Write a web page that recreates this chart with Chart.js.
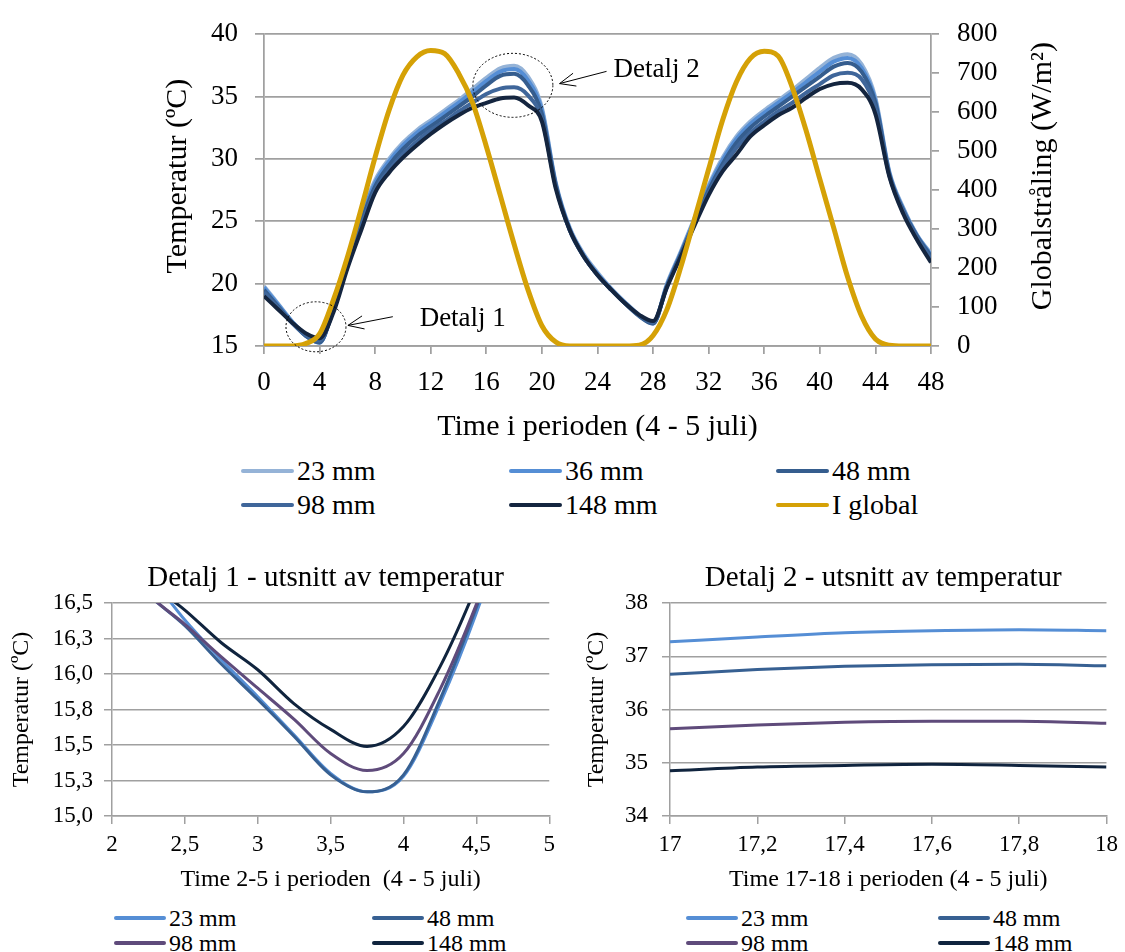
<!DOCTYPE html>
<html>
<head>
<meta charset="utf-8">
<script src="https://cdn.jsdelivr.net/npm/chart.js@4/dist/chart.umd.min.js"></script>
<style>
  body { margin: 0; background: #fff; width: 1125px; height: 952px; position: relative; overflow: hidden; font-family: "Liberation Serif", serif; }
  canvas { position: absolute; }
  .leg { position: absolute; display: flex; align-items: center; white-space: nowrap; color: #000; }
  .leg span { display: inline-block; border-radius: 3px; margin-right: 3px; }
</style>
</head>
<body>
<canvas id="main" width="1125" height="445" style="left:0;top:0"></canvas>
<canvas id="det1" width="562" height="334" style="left:0;top:560px"></canvas>
<canvas id="det2" width="555" height="334" style="left:570px;top:560px"></canvas>
<script>
// hours 0 - 48 (4 - 5 juli)
const hours = [0, 1, 2, 3, 4, 5, 6, 7, 8, 9, 10, 11, 12, 13, 14, 15, 16, 17, 18, 19, 20, 21, 22, 23, 24,
  25, 26, 27, 28, 29, 30, 31, 32, 33, 34, 35, 36, 37, 38, 39, 40, 41, 42, 43, 44, 45, 46, 47, 48];

// temperature (C) per thickness
const t23 = [19.8, 18.4, 17.0, 15.84, 15.28, 18.2, 21.9, 25.5, 28.3, 30.0, 31.3, 32.3, 33.1, 33.9, 34.7, 35.6, 36.5, 37.27, 37.48, 36.6, 34.1, 28.1, 24.5, 22.4, 20.9,
  19.6, 18.5, 17.5, 16.8, 20.0, 22.6, 25.3, 27.9, 30.1, 31.8, 33.0, 33.9, 34.7, 35.5, 36.4, 37.3, 38.1, 38.4, 37.6, 34.9, 29.0, 26.1, 23.9, 22.4];
const t36 = [19.7, 18.35, 16.98, 15.83, 15.27, 18.1, 21.8, 25.3, 28.1, 29.8, 31.1, 32.1, 32.9, 33.7, 34.5, 35.35, 36.25, 37.0, 37.2, 36.3, 33.9, 28.0, 24.4, 22.3, 20.8,
  19.55, 18.45, 17.45, 16.8, 19.9, 22.5, 25.2, 27.75, 29.9, 31.6, 32.8, 33.7, 34.5, 35.3, 36.15, 37.0, 37.8, 38.1, 37.3, 34.7, 28.9, 26.0, 23.85, 22.3];
const t48 = [19.5, 18.2, 16.9, 15.82, 15.29, 18.0, 21.6, 25.0, 27.8, 29.5, 30.8, 31.8, 32.6, 33.4, 34.2, 35.0, 35.9, 36.66, 36.82, 35.9, 33.6, 27.9, 24.3, 22.2, 20.7,
  19.5, 18.4, 17.4, 16.8, 19.8, 22.4, 25.0, 27.5, 29.6, 31.3, 32.5, 33.4, 34.2, 35.0, 35.8, 36.6, 37.4, 37.7, 37.0, 34.5, 28.8, 25.9, 23.8, 22.2];
const t98 = [19.3, 18.1, 16.88, 15.9, 15.44, 17.9, 21.4, 24.6, 27.5, 29.1, 30.4, 31.4, 32.3, 33.0, 33.8, 34.5, 35.2, 35.64, 35.74, 35.1, 33.2, 27.8, 24.3, 22.2, 20.7,
  19.5, 18.4, 17.45, 16.9, 19.8, 22.3, 24.9, 27.3, 29.3, 30.9, 32.1, 33.0, 33.8, 34.5, 35.3, 36.0, 36.7, 36.9, 36.4, 34.1, 28.7, 25.8, 23.7, 22.0];
const t148 = [19.0, 17.95, 16.9, 16.03, 15.63, 17.7, 21.2, 24.3, 27.3, 28.9, 30.1, 31.1, 32.0, 32.8, 33.5, 34.1, 34.5, 34.85, 34.92, 34.3, 33.0, 27.6, 24.3, 22.2, 20.7,
  19.5, 18.4, 17.5, 17.0, 19.7, 22.2, 24.7, 27.1, 29.0, 30.35, 31.8, 32.7, 33.5, 34.1, 34.9, 35.6, 36.0, 36.1, 35.6, 33.6, 28.6, 25.6, 23.5, 21.7];
// global radiation (W/m2)
const iGlobal = [0, 0, 0, 6, 31, 119, 228, 353, 485, 605, 695, 742, 758, 750, 700, 625, 512, 387, 261, 144, 52, 10, 0, 0, 0,
  0, 0, 2, 27, 94, 203, 328, 454, 579, 678, 738, 756, 744, 665, 554, 428, 303, 177, 77, 18, 2, 0, 0, 0];

// Detalj 1: hour 2-5
const d1Hours = [2, 2.25, 2.5, 2.75, 3, 3.25, 3.5, 3.75, 4, 4.25, 4.5, 4.75, 5];
const d1t23 = [16.95, 16.7, 16.38, 16.1, 15.84, 15.57, 15.3, 15.17, 15.28, 15.79, 16.43, 17.2, 18.2];
const d1t48 = [16.85, 16.56, 16.34, 16.07, 15.82, 15.56, 15.29, 15.17, 15.29, 15.82, 16.47, 17.2, 18.1];
const d1t98 = [16.85, 16.56, 16.35, 16.12, 15.9, 15.68, 15.44, 15.32, 15.44, 15.89, 16.49, 17.2, 18.0];
const d1t148 = [16.9, 16.65, 16.45, 16.22, 16.03, 15.79, 15.61, 15.49, 15.63, 16.05, 16.62, 17.3, 18.1];

// Detalj 2: hour 17-18
const d2Hours = [17, 17.2, 17.4, 17.6, 17.8, 18];
const d2t23 = [37.27, 37.36, 37.44, 37.48, 37.5, 37.48];
const d2t48 = [36.66, 36.75, 36.81, 36.84, 36.85, 36.82];
const d2t98 = [35.64, 35.71, 35.76, 35.78, 35.78, 35.74];
const d2t148 = [34.85, 34.92, 34.95, 34.97, 34.95, 34.92];

const mainNames = ['23 mm', '36 mm', '48 mm', '98 mm', '148 mm', 'I global'];
const mainColors = ['#95b3d7', '#558ed5', '#355d8e', '#3f669a', '#14253f', '#d5a106'];
const detNames = ['23 mm', '48 mm', '98 mm', '148 mm'];
const detColors = ['#558ed5', '#376092', '#5f4b7b', '#10243e'];

const FONT = '"Liberation Serif", serif';
const GRID = '#a0a0a0';

function pts(xs, ys) {
  return ys.map(function (v, i) { return { x: xs[i], y: v }; });
}
function comma(v) {
  return String(Math.round(v * 100) / 100).replace('.', ',');
}

function legend(names, colors, colX, rowY, lineW, lineH, size) {
  names.forEach(function (name, i) {
    const item = document.createElement('div');
    item.className = 'leg';
    item.style.left = colX[i % colX.length] + 'px';
    item.style.top = (rowY[Math.floor(i / colX.length)] - 20) + 'px';
    item.style.height = '40px';
    item.style.fontSize = size + 'px';
    item.innerHTML = '<span style="width:' + lineW + 'px;height:' + lineH + 'px;background:' + colors[i] + '"></span>' + name;
    document.body.appendChild(item);
  });
}

function sideTitle(ctx, text, x, y) {
  ctx.save();
  ctx.translate(x, y);
  ctx.rotate(-Math.PI / 2);
  ctx.font = '30px ' + FONT;
  ctx.fillStyle = '#000';
  ctx.textAlign = 'center';
  ctx.textBaseline = 'middle';
  ctx.fillText(text, 0, 0);
  ctx.restore();
}

// dotted circles, arrows and axis titles of the main chart
const notes = {
  id: 'notes',
  afterDatasetsDraw(chart) {
    const { ctx, scales: { x, y } } = chart;
    ctx.save();
    ctx.strokeStyle = '#000';
    ctx.lineWidth = 1;
    ctx.setLineDash([2, 2]);
    [[3.74, 16.54, 30, 25], [17.91, 35.9, 40, 32]].forEach(function (e) {
      ctx.beginPath();
      ctx.ellipse(x.getPixelForValue(e[0]), y.getPixelForValue(e[1]), e[2], e[3], 0, 0, Math.PI * 2);
      ctx.stroke();
    });
    ctx.setLineDash([]);
    [[9.27, 17.35, 6.04, 16.65], [24.65, 37.02, 21.27, 36.04]].forEach(function (a) {
      const x1 = x.getPixelForValue(a[0]), y1 = y.getPixelForValue(a[1]);
      const x2 = x.getPixelForValue(a[2]), y2 = y.getPixelForValue(a[3]);
      const ang = Math.atan2(y1 - y2, x1 - x2);
      ctx.beginPath();
      ctx.moveTo(x1, y1); ctx.lineTo(x2, y2);
      ctx.moveTo(x2 + 17 * Math.cos(ang + 0.4), y2 + 17 * Math.sin(ang + 0.4));
      ctx.lineTo(x2, y2);
      ctx.lineTo(x2 + 17 * Math.cos(ang - 0.4), y2 + 17 * Math.sin(ang - 0.4));
      ctx.stroke();
    });
    ctx.fillStyle = '#000';
    ctx.font = '27px ' + FONT;
    ctx.textBaseline = 'middle';
    ctx.fillText('Detalj 1', x.getPixelForValue(11.2), y.getPixelForValue(17.2));
    ctx.fillText('Detalj 2', x.getPixelForValue(25.15), y.getPixelForValue(37.1));
    ctx.restore();
  },
  afterDraw(chart) {
    const { ctx, chartArea } = chart;
    const mid = (chartArea.top + chartArea.bottom) / 2 - 14;
    sideTitle(ctx, 'Temperatur (ºC)', 178, mid);
    sideTitle(ctx, 'Globalstråling (W/m²)', 1043, mid);
  }
};

// title centred over the plot area
const areaTitle = {
  id: 'areaTitle',
  afterDraw(chart, args, opts) {
    const { ctx, chartArea } = chart;
    ctx.save();
    ctx.font = '29px ' + FONT;
    ctx.fillStyle = '#000';
    ctx.textAlign = 'center';
    ctx.textBaseline = 'middle';
    ctx.fillText(opts.text, (chartArea.left + chartArea.right) / 2 - 5, 18);
    ctx.restore();
  }
};

function tempLine(label, data, color, order, width) {
  return { label: label, data: data, borderColor: color, backgroundColor: color, borderWidth: width,
    pointRadius: 0, cubicInterpolationMode: 'monotone', order: order, yAxisID: 'y' };
}

new Chart(document.getElementById('main'), {
  type: 'line',
  data: {
    datasets: [
      tempLine('23 mm', pts(hours, t23), mainColors[0], 6, 4),
      tempLine('36 mm', pts(hours, t36), mainColors[1], 5, 4),
      tempLine('48 mm', pts(hours, t48), mainColors[2], 4, 4),
      tempLine('98 mm', pts(hours, t98), mainColors[3], 3, 4),
      tempLine('148 mm', pts(hours, t148), mainColors[4], 2, 4),
      { label: 'I global', data: pts(hours, iGlobal), borderColor: mainColors[5], borderWidth: 5,
        pointRadius: 0, cubicInterpolationMode: 'monotone', order: 1, yAxisID: 'y2' }
    ]
  },
  options: {
    responsive: false,
    animation: false,
    events: [],
    layout: { padding: { left: 160, top: 27, right: 0, bottom: 0 } },
    plugins: { legend: { display: false }, tooltip: { enabled: false } },
    scales: {
      x: {
        type: 'linear', min: 0, max: 48,
        ticks: { stepSize: 4, color: '#000', font: { family: FONT, size: 27 }, padding: 13, maxRotation: 0, autoSkip: false },
        grid: { drawOnChartArea: false, tickLength: 8, color: GRID, lineWidth: 1.75 },
        border: { color: GRID, width: 1.75 },
        title: { display: true, text: 'Time i perioden (4 - 5 juli)', color: '#000', font: { family: FONT, size: 30 }, padding: 0 },
        afterFit(s) { s.height = 445 - 346; }
      },
      y: {
        position: 'left', min: 15, max: 40,
        ticks: { stepSize: 5, color: '#000', font: { family: FONT, size: 27 }, padding: 17 },
        grid: { tickLength: 9, color: GRID, lineWidth: 1.75 },
        border: { color: GRID, width: 1.75 },
        afterFit(s) { s.width = 264 - 160; }
      },
      y2: {
        position: 'right', min: 0, max: 800,
        ticks: { stepSize: 100, color: '#000', font: { family: FONT, size: 27 }, padding: 18 },
        grid: { drawOnChartArea: false, tickLength: 8, color: GRID, lineWidth: 1.75 },
        border: { color: GRID, width: 1.75 },
        afterFit(s) { s.width = 1125 - 931; }
      }
    }
  },
  plugins: [notes]
});

function detail(id, title, xs, series, xOpts, yOpts, padLeft, yWidth, yPad, xTitle) {
  new Chart(document.getElementById(id), {
    type: 'line',
    data: {
      datasets: series.map(function (s, i) {
        return { label: detNames[i], data: pts(xs, s), borderColor: detColors[i], borderWidth: 3,
          pointRadius: 0, cubicInterpolationMode: 'monotone', order: 4 - i };
      })
    },
    options: {
      responsive: false,
      animation: false,
      events: [],
      layout: { padding: { left: padLeft, top: 43, right: 11, bottom: 0 } },
      plugins: { legend: { display: false }, tooltip: { enabled: false }, areaTitle: { text: title } },
      scales: {
        x: {
          type: 'linear', min: xOpts.min, max: xOpts.max,
          ticks: { stepSize: xOpts.step, color: '#000', font: { family: FONT, size: 23 }, padding: 7, maxRotation: 0, autoSkip: false,
            callback: function (v) { return comma(v); } },
          grid: { drawOnChartArea: false, tickLength: 8, color: GRID, lineWidth: 1.5 },
          border: { color: GRID, width: 1.5 },
          title: { display: true, text: xTitle, color: '#000', font: { family: FONT, size: 24 }, padding: 0 },
          afterFit(s) { s.height = 334 - 256; }
        },
        y: {
          min: yOpts.min, max: yOpts.max,
          ticks: { stepSize: yOpts.step, color: '#000', font: { family: FONT, size: 23 }, padding: yPad,
            callback: yOpts.fmt },
          grid: { tickLength: 8, color: GRID, lineWidth: 1.5 },
          border: { color: GRID, width: 1.5 },
          title: { display: true, text: 'Temperatur (ºC)', color: '#000', font: { family: FONT, size: 24 }, padding: 0 },
          afterFit(s) { s.width = yWidth; }
        }
      }
    },
    plugins: [areaTitle]
  });
}

detail('det1', 'Detalj 1 - utsnitt av temperatur', d1Hours, [d1t23, d1t48, d1t98, d1t148],
  { min: 2, max: 5, step: 0.5 },
  { min: 15, max: 16.5, step: 0.25, fmt: function (v) { return v.toFixed(1).replace('.', ','); } },
  7, 105, 11, 'Time 2-5 i perioden  (4 - 5 juli)');

detail('det2', 'Detalj 2 - utsnitt av temperatur', d2Hours, [d2t23, d2t48, d2t98, d2t148],
  { min: 17, max: 18, step: 0.2 },
  { min: 34, max: 38, step: 1, fmt: function (v) { return String(v); } },
  12, 88, 14, 'Time 17-18 i perioden (4 - 5 juli)');

legend(mainNames, mainColors, [241, 509, 776], [471, 505], 53, 4, 28);
legend(detNames, detColors, [114, 372], [918, 943], 52, 4, 24);
legend(detNames, detColors, [686, 938], [918, 943], 52, 4, 24);
</script>
</body>
</html>
